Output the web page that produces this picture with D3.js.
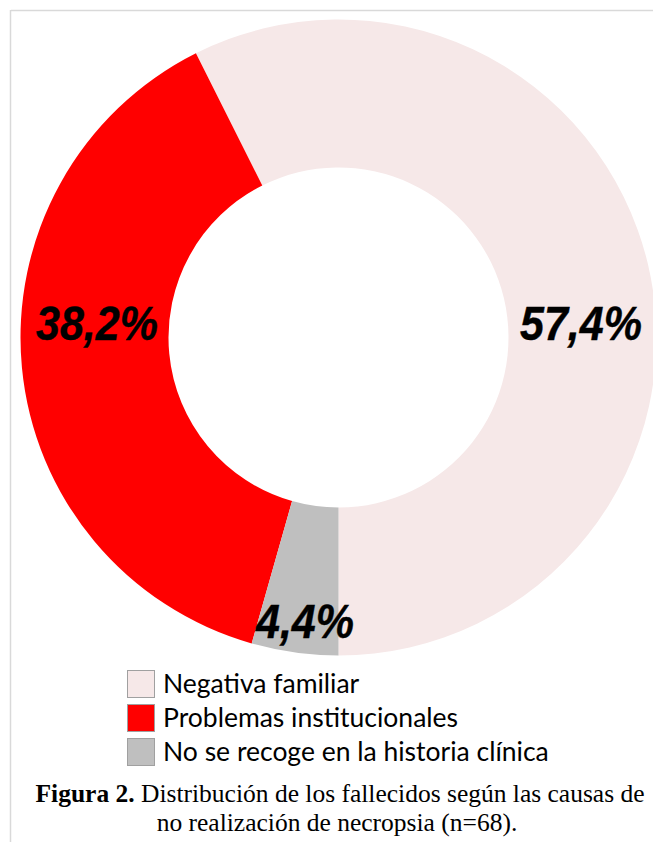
<!DOCTYPE html>
<html>
<head>
<meta charset="utf-8">
<script src="https://cdn.jsdelivr.net/npm/d3@7"></script>
<style>
  html, body { margin: 0; padding: 0; background: #fff; }
  svg { display: block; }
</style>
</head>
<body>
<script>
// ---- data ----
const categories = ["Negativa familiar", "Problemas institucionales", "No se recoge en la historia clínica"];
const values = [57.4, 38.2, 4.4];
const valueLabels = ["57,4%", "38,2%", "4,4%"];
const colors = ["#F6E8E8", "#FF0000", "#BFBFBF"];
const captionBold = "Figura 2.";
const captionRest = " Distribución de los fallecidos según las causas de";
const captionLine2 = "no realización de necropsia (n=68).";

const W = 653, H = 842;
const svg = d3.select("body").append("svg").attr("width", W).attr("height", H);

// frame lines
svg.append("line").attr("x1", 11).attr("y1", 10.5).attr("x2", W).attr("y2", 10.5)
  .attr("stroke", "#d9d9d9").attr("stroke-width", 1.5);
svg.append("line").attr("x1", 10.5).attr("y1", 10).attr("x2", 10.5).attr("y2", H)
  .attr("stroke", "#d9d9d9").attr("stroke-width", 1.5);

const cx = 338.5, cy = 337.5, rOuter = 318, rInner = 170;

const pie = d3.pie().sort(null).value(d => d).startAngle(Math.PI).endAngle(-Math.PI);
const arcs = pie(values);
const arc = d3.arc().innerRadius(rInner).outerRadius(rOuter);

const g = svg.append("g").attr("transform", `translate(${cx},${cy})`);
g.selectAll("path.slice").data(arcs).join("path")
  .attr("class", "slice")
  .attr("d", arc)
  .attr("fill", (d, i) => colors[i]);

// data labels (placed like the original, manually positioned)
const labelPos = [[581, 340], [97, 340], [305, 638]];
svg.selectAll("text.val").data(valueLabels).join("text")
  .attr("class", "val")
  .attr("transform", (d, i) => `translate(${labelPos[i][0]},${labelPos[i][1]}) scale(1,1.12)`)
  .attr("text-anchor", "middle")
  .attr("font-family", "Liberation Sans, Arial, sans-serif")
  .attr("font-weight", "bold")
  .attr("font-style", "italic")
  .attr("font-size", 43)
  .attr("fill", "#000")
  .attr("stroke", "#000").attr("stroke-width", 0.4)
  .text(d => d);

// legend
const legend = svg.append("g").attr("transform", "translate(127,670)");
const item = legend.selectAll("g").data(categories).join("g")
  .attr("transform", (d, i) => `translate(0,${i * 34})`);
item.append("rect").attr("x", 0.5).attr("y", 0.5).attr("width", 27).attr("height", 27)
  .attr("fill", (d, i) => colors[i]).attr("stroke", "#a0a0a0").attr("stroke-width", 1);
item.append("text").attr("x", 36).attr("y", 23)
  .attr("font-family", "Lato, 'Open Sans', sans-serif")
  .attr("font-size", 26.5)
  .attr("fill", "#000")
  .text(d => d);

// caption
const cap = svg.append("text").attr("x", 340).attr("y", 802)
  .attr("text-anchor", "middle")
  .attr("font-family", "'Liberation Serif', 'Times New Roman', serif")
  .attr("font-size", 25.5).attr("fill", "#000");
cap.append("tspan").attr("font-weight", "bold").text(captionBold);
cap.append("tspan").text(captionRest);
svg.append("text").attr("x", 337).attr("y", 831)
  .attr("text-anchor", "middle")
  .attr("font-family", "'Liberation Serif', 'Times New Roman', serif")
  .attr("font-size", 25.5).attr("fill", "#000")
  .text(captionLine2);
</script>
</body>
</html>
